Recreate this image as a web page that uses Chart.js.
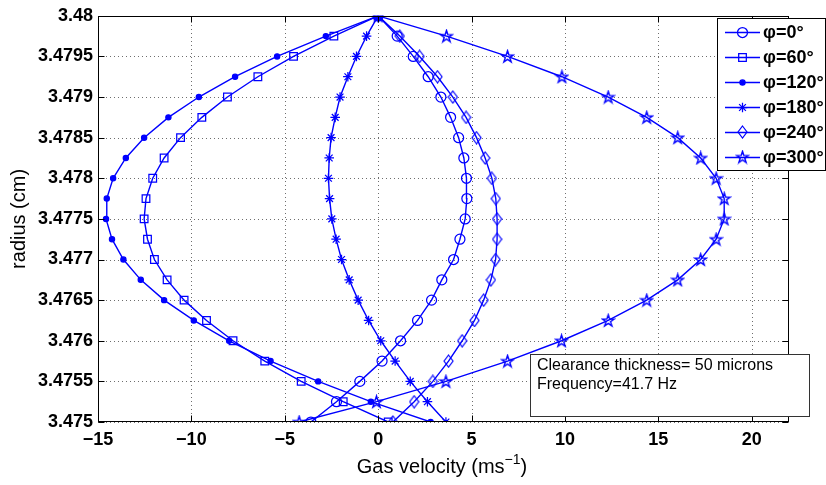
<!DOCTYPE html>
<html>
<head>
<meta charset="utf-8">
<title>Gas velocity profiles</title>
<script src="https://cdn.jsdelivr.net/npm/chart.js@4.4.0/dist/chart.umd.min.js"></script>
<style>
    html, body { margin: 0; padding: 0; background: #fff; }
    #wrap { width: 826px; height: 485px; }
</style>
</head>
<body>
<div id="wrap"><canvas id="velocityChart" width="826" height="485"></canvas></div>
<script>
// radius values (cm), bottom to top
const radius = [3.475, 3.47525, 3.4755, 3.47575, 3.476, 3.47625, 3.4765, 3.47675, 3.477, 3.47725,
    3.4775, 3.47775, 3.478, 3.47825, 3.4785, 3.47875, 3.479, 3.47925, 3.4795, 3.47975, 3.48];

// gas velocity (m/s) at each radius, one array per phase angle
const phi0 = [-3.60, -2.23, -0.98, 0.21, 1.20, 2.11, 2.86, 3.41, 4.04, 4.38,
    4.66, 4.75, 4.73, 4.59, 4.31, 3.88, 3.36, 2.68, 1.88, 1.02, 0];
const phi60 = [0.54, -1.87, -4.12, -6.07, -7.77, -9.19, -10.39, -11.30, -11.98, -12.35,
    -12.53, -12.43, -12.07, -11.46, -10.58, -9.44, -8.07, -6.44, -4.53, -2.37, 0];
const phi120 = [2.81, -0.39, -3.21, -5.76, -7.98, -9.87, -11.46, -12.71, -13.64, -14.25,
    -14.57, -14.53, -14.19, -13.51, -12.53, -11.23, -9.60, -7.66, -5.41, -2.80, 0];
const phi180 = [3.63, 2.64, 1.72, 0.91, 0.14, -0.51, -1.07, -1.55, -1.96, -2.25,
    -2.48, -2.60, -2.66, -2.62, -2.52, -2.30, -2.04, -1.62, -1.16, -0.62, 0];
const phi240 = [0.79, 1.93, 2.93, 3.77, 4.50, 5.16, 5.65, 6.04, 6.29, 6.37,
    6.37, 6.30, 6.09, 5.73, 5.27, 4.71, 4.00, 3.18, 2.22, 1.16, 0];
const phi300 = [-4.23, -0.09, 3.63, 6.93, 9.82, 12.32, 14.38, 16.04, 17.27, 18.10,
    18.53, 18.53, 18.10, 17.27, 16.04, 14.38, 12.32, 9.84, 6.93, 3.66, 0];

const seriesLabels = ['φ=0°', 'φ=60°', 'φ=120°', 'φ=180°', 'φ=240°', 'φ=300°'];

// tick values and their labels
const xTicks = [-15, -10, -5, 0, 5, 10, 15, 20];
const xTickLabels = ['\u221215', '\u221210', '\u22125', '0', '5', '10', '15', '20'];
const yTicks = [3.475, 3.4755, 3.476, 3.4765, 3.477, 3.4775, 3.478, 3.4785, 3.479, 3.4795, 3.48];
const yTickLabels = ['3.475', '3.4755', '3.476', '3.4765', '3.477', '3.4775', '3.478', '3.4785', '3.479', '3.4795', '3.48'];

const BLUE = 'rgb(0,0,255)';
const FONT = "'Liberation Sans', Arial, Helvetica, sans-serif";

// hollow marker images for the shapes Chart.js does not have
function makeMarker(w, h, lw, drawFn) {
    const c = document.createElement('canvas');
    c.width = w; c.height = h;
    const g = c.getContext('2d');
    g.strokeStyle = BLUE;
    g.lineWidth = lw;
    drawFn(g, w, h);
    return c;
}
const diamondImg = makeMarker(11, 14, 1.2, (g, w, h) => {
    g.beginPath();
    g.moveTo(w / 2, 1); g.lineTo(w - 1, h / 2); g.lineTo(w / 2, h - 1); g.lineTo(1, h / 2);
    g.closePath(); g.stroke();
});
const pentagramImg = makeMarker(15, 15, 1.4, (g, w, h) => {
    const cx = w / 2, cy = h / 2 + 0.5, ro = 6.2, ri = ro * 0.382;
    g.beginPath();
    for (let i = 0; i < 10; i++) {
        const r = i % 2 === 0 ? ro : ri;
        const ang = -Math.PI / 2 + i * Math.PI / 5;
        const px = cx + r * Math.cos(ang), py = cy + r * Math.sin(ang);
        if (i === 0) g.moveTo(px, py); else g.lineTo(px, py);
    }
    g.closePath(); g.stroke();
});

// marker settings for each series
const markers = [
    { pointStyle: 'circle', radius: 5, fill: 'rgba(0,0,0,0)' },
    { pointStyle: 'rect', radius: 5.4, fill: 'rgba(0,0,0,0)' },
    { pointStyle: 'circle', radius: 2.6, fill: BLUE },
    { pointStyle: 'star', radius: 4.8, fill: 'rgba(0,0,0,0)' },
    { pointStyle: diamondImg, radius: 6, fill: 'rgba(0,0,0,0)' },
    { pointStyle: pentagramImg, radius: 7, fill: 'rgba(0,0,0,0)' }
];

const seriesValues = [phi0, phi60, phi120, phi180, phi240, phi300];

const datasets = seriesValues.map((vals, i) => ({
    label: seriesLabels[i],
    data: vals.map((v, k) => ({ x: v, y: radius[k] })),
    showLine: true,
    borderColor: BLUE,
    borderWidth: 1.4,
    pointStyle: markers[i].pointStyle,
    pointRadius: markers[i].radius,
    pointBackgroundColor: markers[i].fill,
    pointBorderColor: BLUE,
    pointBorderWidth: 1.25,
    tension: 0
}));

// dotted grid under the data
const gridPlugin = {
    id: 'dottedGrid',
    beforeDatasetsDraw(chart) {
        const { ctx, chartArea: a, scales } = chart;
        ctx.save();
        ctx.strokeStyle = '#6e6e6e';
        ctx.lineWidth = 1;
        ctx.setLineDash([1, 3]);
        ctx.beginPath();
        xTicks.forEach(v => {
            const px = Math.round(scales.x.getPixelForValue(v)) + 0.5;
            ctx.moveTo(px, a.bottom); ctx.lineTo(px, a.top);
        });
        yTicks.forEach(v => {
            const py = Math.round(scales.y.getPixelForValue(v)) + 0.5;
            ctx.moveTo(a.left, py); ctx.lineTo(a.right, py);
        });
        ctx.stroke();
        ctx.restore();
    }
};

// draws box, inward ticks, axis titles, legend and note, like a MATLAB figure
const figurePlugin = {
    id: 'figureDecor',
    afterDraw(chart) {
        const { ctx, chartArea: a, scales } = chart;
        const L = Math.round(a.left) + 0.5, R = Math.round(a.right) - 0.5;
        const T = Math.round(a.top) + 0.5, B = Math.round(a.bottom) - 0.5;
        ctx.save();

        // axes box
        ctx.strokeStyle = '#000';
        ctx.lineWidth = 1;
        ctx.setLineDash([]);
        ctx.strokeRect(L, T, R - L, B - T);

        // inward ticks
        ctx.beginPath();
        xTicks.forEach(v => {
            const px = Math.round(scales.x.getPixelForValue(v)) + 0.5;
            ctx.moveTo(px, B); ctx.lineTo(px, B - 6);
            ctx.moveTo(px, T); ctx.lineTo(px, T + 6);
        });
        yTicks.forEach(v => {
            const py = Math.round(scales.y.getPixelForValue(v)) + 0.5;
            ctx.moveTo(L, py); ctx.lineTo(L + 6, py);
            ctx.moveTo(R, py); ctx.lineTo(R - 6, py);
        });
        ctx.stroke();

        // axis titles
        ctx.fillStyle = '#000';
        ctx.font = '20px ' + FONT;
        ctx.textBaseline = 'alphabetic';
        const main = 'Gas velocity (ms';
        const sup = '\u22121';
        const close = ')';
        const wMain = ctx.measureText(main).width;
        const wClose = ctx.measureText(close).width;
        ctx.font = '14px ' + FONT;
        const wSup = ctx.measureText(sup).width;
        let tx = 442 - (wMain + wSup + wClose) / 2;
        const ty = 473;
        ctx.font = '20px ' + FONT;
        ctx.textAlign = 'left';
        ctx.fillText(main, tx, ty);
        tx += wMain;
        ctx.font = '14px ' + FONT;
        ctx.fillText(sup, tx, ty - 9);
        tx += wSup;
        ctx.font = '20px ' + FONT;
        ctx.fillText(close, tx, ty);

        ctx.save();
        ctx.translate(25, (a.top + a.bottom) / 2);
        ctx.rotate(-Math.PI / 2);
        ctx.textAlign = 'center';
        ctx.fillText('radius (cm)', 0, 0);
        ctx.restore();

        // legend
        const lx = 717.5, ly = 18.5, lw = 108, lh = 152;
        ctx.fillStyle = '#fff';
        ctx.fillRect(lx, ly, lw, lh);
        ctx.strokeStyle = '#000';
        ctx.strokeRect(lx, ly, lw, lh);
        ctx.font = 'bold 18px ' + FONT;
        ctx.textAlign = 'left';
        ctx.textBaseline = 'middle';
        chart.data.datasets.forEach((ds, i) => {
            const yy = 32 + i * 25;
            ctx.strokeStyle = BLUE;
            ctx.lineWidth = 1.4;
            ctx.beginPath();
            ctx.moveTo(725, yy + 0.5); ctx.lineTo(760, yy + 0.5);
            ctx.stroke();
            const st = markers[i].pointStyle;
            if (st instanceof HTMLCanvasElement) {
                ctx.drawImage(st, 742.5 - st.width / 2, yy - st.height / 2);
            } else {
                ctx.fillStyle = markers[i].fill;
                ctx.lineWidth = 1.25;
                Chart.helpers.drawPoint(ctx, { pointStyle: st, radius: markers[i].radius, borderWidth: 1.25, rotation: 0 }, 742.5, yy + 0.5);
            }
            ctx.fillStyle = '#000';
            ctx.fillText(ds.label, 763, yy + 1);
        });

        // note box
        ctx.fillStyle = '#fff';
        ctx.fillRect(530, 354, 280, 63);
        ctx.strokeStyle = '#333';
        ctx.lineWidth = 1;
        ctx.strokeRect(530.5, 354.5, 279, 62);
        ctx.fillStyle = '#000';
        ctx.font = '16px ' + FONT;
        ctx.textBaseline = 'middle';
        ctx.fillText('Clearance thickness= 50 microns', 537, 366);
        ctx.fillText('Frequency=41.7 Hz', 537, 385);

        ctx.restore();
    }
};

const ctx = document.getElementById('velocityChart').getContext('2d');
new Chart(ctx, {
    type: 'scatter',
    data: { datasets: datasets },
    options: {
        responsive: false,
        animation: false,
        events: [],
        layout: { padding: { top: 13, right: 37, left: 0, bottom: 0 } },
        plugins: { legend: { display: false }, tooltip: { enabled: false } },
        scales: {
            x: {
                type: 'linear',
                min: -15,
                max: 22,
                afterBuildTicks: s => { s.ticks = xTicks.map(v => ({ value: v })); },
                afterFit: s => { s.height = 63; },
                ticks: {
                    autoSkip: false,
                    maxRotation: 0,
                    padding: 7,
                    color: '#000',
                    font: { family: FONT, size: 18, weight: 'bold' },
                    callback: (v) => xTickLabels[xTicks.indexOf(v)]
                },
                grid: { display: false, drawTicks: false, tickLength: 0 },
                border: { display: false }
            },
            y: {
                type: 'linear',
                min: 3.475,
                max: 3.48,
                afterBuildTicks: s => { s.ticks = yTicks.map(v => ({ value: v })); },
                afterFit: s => { s.width = 98; },
                ticks: {
                    autoSkip: false,
                    padding: 5,
                    color: '#000',
                    font: { family: FONT, size: 18, weight: 'bold' },
                    callback: (v) => yTickLabels[yTicks.findIndex(t => Math.abs(t - v) < 1e-9)]
                },
                grid: { display: false, drawTicks: false, tickLength: 0 },
                border: { display: false }
            }
        }
    },
    plugins: [gridPlugin, figurePlugin]
});
</script>
</body>
</html>
